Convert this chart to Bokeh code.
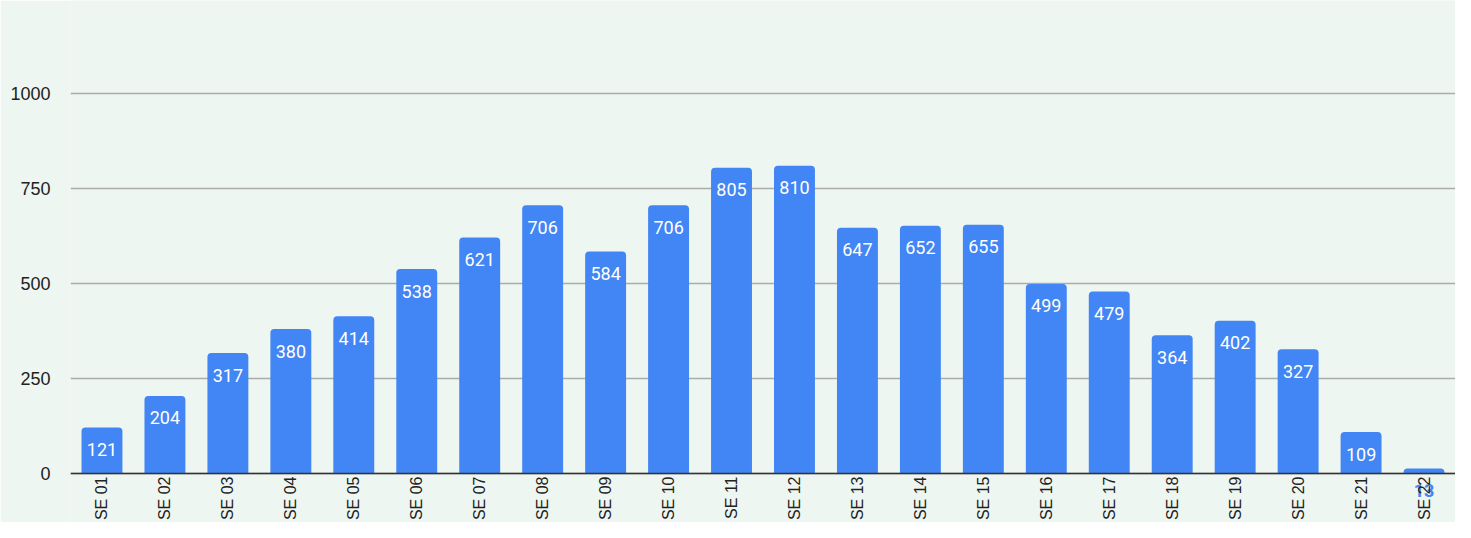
import math
from bokeh.plotting import figure
from bokeh.models import ColumnDataSource, FactorRange, Range1d, FixedTicker
from bokeh.core.properties import value
from bokeh.embed import file_html
from bokeh.resources import INLINE

weeks = ["SE 01", "SE 02", "SE 03", "SE 04", "SE 05", "SE 06", "SE 07", "SE 08",
         "SE 09", "SE 10", "SE 11", "SE 12", "SE 13", "SE 14", "SE 15", "SE 16",
         "SE 17", "SE 18", "SE 19", "SE 20", "SE 21", "SE 22"]
counts = [121, 204, 317, 380, 414, 538, 621, 706, 584, 706, 805, 810,
          647, 652, 655, 499, 479, 364, 402, 327, 109, 13]
y_ticks = [0, 250, 500, 750, 1000]

BG = "#eef6f1"
BLUE = "#4285f4"

p = figure(width=1455, height=522, output_backend="svg", toolbar_location=None,
           x_range=FactorRange(factors=weeks, range_padding=0, range_padding_units="absolute"),
           y_range=Range1d(-129, 1245),
           background_fill_color=BG, border_fill_color=BG,
           min_border_top=0, min_border_right=0, min_border_bottom=0, min_border_left=70)
p.outline_line_color = None

src = ColumnDataSource(dict(x=weeks, top=counts))
p.vbar(x="x", top="top", bottom=0, width=0.65, source=src, fill_color=BLUE, line_color=None,
       border_radius=(4, 4, 0, 0))

inside = [i for i, c in enumerate(counts) if c >= 60]
outside = [i for i, c in enumerate(counts) if c < 60]
src_in = ColumnDataSource(dict(x=[weeks[i] for i in inside], y=[counts[i] for i in inside],
                               lab=[str(counts[i]) for i in inside]))
src_out = ColumnDataSource(dict(x=[weeks[i] for i in outside], y=[counts[i] for i in outside],
                                lab=[str(counts[i]) for i in outside]))
p.text(x="x", y="y", text="lab", source=src_in, text_color="white",
       text_font=value("Roboto"), text_font_size="18px",
       text_align="center", text_baseline="middle", y_offset=22)
p.text(x="x", y="y", text="lab", source=src_out, text_color=BLUE,
       text_font=value("Roboto"), text_font_size="18px", text_font_style="bold",
       text_align="center", text_baseline="middle", y_offset=22)

p.xgrid.grid_line_color = None
p.ygrid.grid_line_color = "#ababab"
p.ygrid.grid_line_width = 1.5
p.ygrid.ticker = FixedTicker(ticks=y_ticks)

p.yaxis.ticker = FixedTicker(ticks=y_ticks)
p.yaxis.axis_line_color = None
p.yaxis.major_tick_line_color = None
p.yaxis.minor_tick_line_color = None
p.yaxis.major_tick_out = 0
p.yaxis.major_label_standoff = 20
p.yaxis.major_label_text_font = "Liberation Sans"
p.yaxis.major_label_text_font_size = "18px"
p.yaxis.major_label_text_color = "#222222"

p.xaxis.fixed_location = 0
p.xaxis.axis_line_color = "#333333"
p.xaxis.axis_line_width = 1.5
p.xaxis.major_tick_line_color = None
p.xaxis.minor_tick_line_color = None
p.xaxis.major_tick_out = 0
p.xaxis.major_label_orientation = math.pi / 2
p.xaxis.major_label_standoff = 3
p.xaxis.major_label_text_font = "Liberation Sans"
p.xaxis.major_label_text_font_size = "16px"
p.xaxis.major_label_text_color = "#222222"

open("out.html", "w").write(file_html(p, INLINE))
